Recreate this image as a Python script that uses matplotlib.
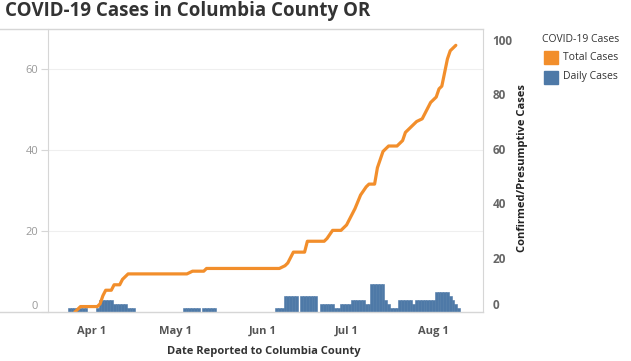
import matplotlib
matplotlib.use('Agg')
import matplotlib.pyplot as plt
import matplotlib.dates as mdates
from matplotlib.patches import Rectangle
from matplotlib.lines import Line2D
import pandas as pd

plt.rcParams['font.family'] = ['Open Sans', 'DejaVu Sans']

# daily cases, one value per day from Mar 24
daily_start = '2020-03-24'
daily_cases = [
    1, 1, 1, 1, 1, 1, 1, 0,                                   # Mar 24-31
    0, 0, 1, 3, 3, 3, 3, 3, 2, 2, 2, 2, 2, 1, 1, 1,           # Apr 1-16
    0, 0, 0, 0, 0, 0, 0, 0, 0, 0, 0, 0, 0, 0,                 # Apr 17-30
    0, 0, 0, 1, 1, 1, 1, 1, 1, 0, 1, 1, 1, 1, 1,              # May 1-15
    0, 0, 0, 0, 0, 0, 0, 0, 0, 0, 0, 0, 0, 0, 0, 0,           # May 16-31
    0, 0, 0, 0, 0, 1, 1, 1, 4, 4, 4, 4, 4, 0, 4,              # Jun 1-15
    4, 4, 4, 4, 4, 0, 2, 2, 2, 2, 2, 1, 1, 2, 2,              # Jun 16-30
    2, 2, 3, 3, 3, 3, 3, 2, 2, 7, 7, 7, 7, 7, 3, 2,           # Jul 1-16
    1, 1, 1, 3, 3, 3, 3, 3, 2, 3, 3, 3, 3, 3, 3,              # Jul 17-31
    3, 5, 5, 5, 5, 5, 4, 3, 2, 1,                             # Aug 1-10
]

# cumulative total cases
total_dates = ['2020-03-26', '2020-03-28', '2020-04-03', '2020-04-04', '2020-04-05',
               '2020-04-06', '2020-04-08', '2020-04-09', '2020-04-11', '2020-04-12',
               '2020-04-14', '2020-05-05', '2020-05-07', '2020-05-11', '2020-05-12',
               '2020-06-07', '2020-06-09', '2020-06-10', '2020-06-12', '2020-06-16',
               '2020-06-17', '2020-06-23', '2020-06-24', '2020-06-26', '2020-06-29',
               '2020-07-01', '2020-07-04', '2020-07-06', '2020-07-08', '2020-07-09',
               '2020-07-11', '2020-07-12', '2020-07-14', '2020-07-16', '2020-07-19',
               '2020-07-20', '2020-07-21', '2020-07-22', '2020-07-23', '2020-07-26',
               '2020-07-28', '2020-07-29', '2020-07-31', '2020-08-02', '2020-08-03',
               '2020-08-04', '2020-08-05', '2020-08-06', '2020-08-07', '2020-08-09']
total_cases = [0, 2, 2, 3, 6,
               8, 8, 10, 10, 12,
               14, 14, 15, 15, 16,
               16, 17, 18, 22, 22,
               26, 26, 27, 30, 30,
               32, 38, 43, 46, 47,
               47, 53, 59, 61, 61,
               62, 63, 66, 67, 70,
               71, 73, 77, 79, 82,
               83, 88, 93, 96, 98]

month_ticks = ['2020-04-01', '2020-05-01', '2020-06-01', '2020-07-01', '2020-08-01']
month_labels = ['Apr 1', 'May 1', 'Jun 1', 'Jul 1', 'Aug 1']

orange = '#f28e2b'
blue = '#4e79a7'
grid = '#d6d6d6'

fig = plt.figure(figsize=(6.31, 3.61), dpi=100)
W, H = 631, 361
ax = fig.add_axes([48 / W, 1 - 312 / H, 435 / W, 283 / H])
ax2 = ax.twinx()

days = pd.date_range(daily_start, periods=len(daily_cases), freq='D')
ax.bar(days, daily_cases, width=1.0, color=blue, edgecolor=blue, linewidth=0.4)
ax2.plot(pd.to_datetime(total_dates), total_cases, color=orange, lw=2.3,
         solid_joinstyle='round', solid_capstyle='round')

apr1 = pd.Timestamp('2020-04-01')
ax.set_xlim(apr1 - pd.Timedelta(days=15.6), apr1 + pd.Timedelta(days=139.7))
ax.set_ylim(0, 70)
ax2.set_ylim(0, 104)

ax.set_xticks(pd.to_datetime(month_ticks))
ax.set_xticklabels(month_labels, fontsize=8, fontweight='bold', color='#555555')
ax.tick_params(axis='x', length=0, pad=10)

ax.set_yticks([0, 20, 40, 60])
ax.tick_params(axis='y', length=5, color=grid, labelsize=8, labelcolor='#999999', pad=2)
ax.yaxis.grid(True, color='#efefef', lw=0.8)
ax.set_axisbelow(True)

ax2.set_yticks([0, 20, 40, 60, 80, 100])
ax2.tick_params(axis='y', length=0, pad=7, labelsize=8.5, labelcolor='#666666')
for lab in ax2.get_yticklabels():
    lab.set_fontweight('bold')
ax.yaxis.get_major_ticks()[0].label1.set_verticalalignment('bottom')
ax2.yaxis.get_major_ticks()[0].label2.set_verticalalignment('bottom')

for a in (ax, ax2):
    for s in a.spines.values():
        s.set_visible(False)
ax.spines['left'].set_visible(True)
ax.spines['left'].set_color(grid)
ax2.spines['right'].set_visible(True)
ax2.spines['right'].set_color(grid)

# header and baseline rules across the worksheet
fig.add_artist(Line2D([0, 483 / W], [1 - 29 / H, 1 - 29 / H], color=grid, lw=1))
fig.add_artist(Line2D([0, 483 / W], [1 - 312 / H, 1 - 312 / H], color=grid, lw=1))

ax2.set_ylabel('Confirmed/Presumptive Cases', fontsize=8, fontweight='bold', color='#222222')
ax2.yaxis.set_label_coords((517 - 48) / 435, (312 - 168) / 283)
ax.set_xlabel('Date Reported to Columbia County', fontsize=8, fontweight='bold', color='#333333')
ax.xaxis.set_label_coords((264 - 48) / 435, (312 - 346) / 283)

fig.text(5 / W, 1 - 11 / H, 'COVID-19 Cases in Columbia County OR', fontsize=13.5,
         fontweight='bold', color='#333333', va='center')

# legend
fig.text(542 / W, 1 - 40 / H, 'COVID-19 Cases', fontsize=7.5, color='#333333', va='center')
for i, (name, col) in enumerate([('Total Cases', orange), ('Daily Cases', blue)]):
    yc = 57 + i * 19.5
    fig.add_artist(Rectangle((544 / W, 1 - (yc + 7) / H), 14 / W, 13 / H,
                             transform=fig.transFigure, color=col))
    fig.text(563 / W, 1 - yc / H, name, fontsize=7.5, color='#333333', va='center')

fig.savefig('out.png', dpi=100)
